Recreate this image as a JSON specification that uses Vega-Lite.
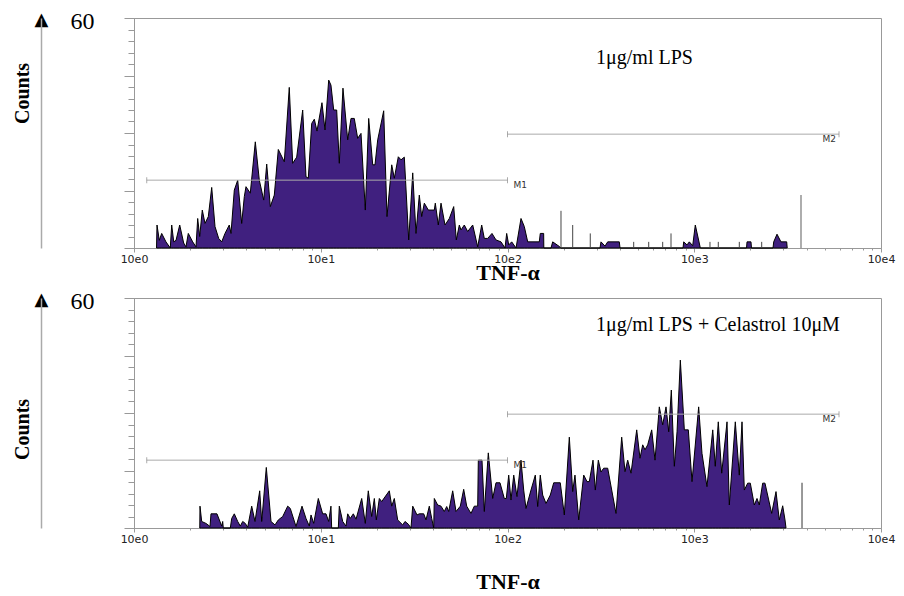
{
  "$schema": "https://vega.github.io/schema/vega-lite/v6.json",
  "background": "white",
  "padding": {"left": 11, "top": 8, "right": 0, "bottom": 0},
  "spacing": 4,
  "config": {
    "view": {"stroke": "#999", "strokeWidth": 1},
    "axis": {"grid": false, "domainColor": "#999", "tickColor": "#999"}
  },
  "datasets": {
    "top_hist": [
      {"x":1.32,"count":0},{"x":1.328,"count":6.0},{"x":1.366,"count":2},{"x":1.407,"count":3.8},{"x":1.483,"count":1.6},{"x":1.564,"count":0},{"x":1.592,"count":6},{"x":1.632,"count":1.6},{"x":1.679,"count":2},{"x":1.757,"count":6},{"x":1.845,"count":1.3},{"x":1.898,"count":0.3},{"x":1.953,"count":3.8},{"x":2.062,"count":1.6},{"x":2.148,"count":0.3},{"x":2.193,"count":7.7},{"x":2.248,"count":3},{"x":2.321,"count":9.9},{"x":2.4,"count":6.4},{"x":2.5,"count":8.2},{"x":2.607,"count":15.8},{"x":2.715,"count":5.6},{"x":2.841,"count":2.5},{"x":2.949,"count":1.6},{"x":3.071,"count":3.8},{"x":3.238,"count":6},{"x":3.307,"count":3.8},{"x":3.444,"count":15.1},{"x":3.592,"count":17.7},{"x":3.773,"count":6.4},{"x":3.896,"count":13.4},{"x":3.978,"count":16},{"x":4.195,"count":14.3},{"x":4.462,"count":27.7},{"x":4.688,"count":17.7},{"x":4.95,"count":12.5},{"x":5.136,"count":21.9},{"x":5.37,"count":10.8},{"x":5.64,"count":13.8},{"x":5.925,"count":25.7},{"x":6.38,"count":22.5},{"x":6.784,"count":41.9},{"x":7.075,"count":22.1},{"x":7.433,"count":23.7},{"x":8.004,"count":36},{"x":8.337,"count":18.6},{"x":8.577,"count":18.2},{"x":8.944,"count":32.5},{"x":9.237,"count":33.6},{"x":9.548,"count":30.5},{"x":10.15,"count":37.9},{"x":10.54,"count":30.8},{"x":11.03,"count":43.8},{"x":11.34,"count":42.5},{"x":11.73,"count":36},{"x":12.17,"count":36},{"x":12.57,"count":22.1},{"x":13.15,"count":41.7},{"x":13.94,"count":28.2},{"x":14.52,"count":33.8},{"x":15.12,"count":33.8},{"x":15.77,"count":28.6},{"x":16.43,"count":29.9},{"x":17.32,"count":9.9},{"x":18.06,"count":33.8},{"x":18.98,"count":21.7},{"x":19.52,"count":21.7},{"x":20.18,"count":28.2},{"x":21.73,"count":35.8},{"x":22.63,"count":8.2},{"x":23.99,"count":21.7},{"x":24.77,"count":18.2},{"x":26.02,"count":23.8},{"x":26.9,"count":23},{"x":28.02,"count":23.7},{"x":29.58,"count":2.1},{"x":31.08,"count":19.6},{"x":32.36,"count":3.8},{"x":33.71,"count":13.8},{"x":34.72,"count":8.2},{"x":35.86,"count":11.7},{"x":37.67,"count":9.9},{"x":40.55,"count":9.9},{"x":41.06,"count":11.7},{"x":42.61,"count":6},{"x":44.05,"count":11.7},{"x":46.28,"count":6},{"x":48.81,"count":7.7},{"x":51.52,"count":10.8},{"x":53.2,"count":2.1},{"x":55.21,"count":6},{"x":56.36,"count":4.7},{"x":58.71,"count":6},{"x":61.22,"count":4.3},{"x":65.12,"count":6},{"x":69.25,"count":0.3},{"x":72.75,"count":6},{"x":75.13,"count":2.5},{"x":78.34,"count":2.5},{"x":82.6,"count":3.8},{"x":86.77,"count":2.1},{"x":92.3,"count":1.6},{"x":96.96,"count":0},{"x":99.0,"count":3.8},{"x":101.5,"count":0.8},{"x":105.3,"count":1.6},{"x":111.1,"count":0},{"x":118.1,"count":7.7},{"x":123.0,"count":5.6},{"x":128.3,"count":1.6},{"x":148.0,"count":1.6},{"x":149.8,"count":3.8},{"x":156.2,"count":3.8},{"x":156.5,"count":0},{"x":171,"count":0},{"x":174.6,"count":1.6},{"x":189.4,"count":0.4},{"x":193.4,"count":0},{"x":312.8,"count":0},{"x":316.7,"count":1.6},{"x":332.8,"count":0.5},{"x":344,"count":1.6},{"x":396.9,"count":1.6},{"x":400.4,"count":0},{"x":870.8,"count":0},{"x":878.1,"count":1.6},{"x":914.6,"count":0.8},{"x":940.9,"count":1.6},{"x":981.1,"count":0.6},{"x":1013,"count":6},{"x":1078,"count":0},{"x":1905,"count":0},{"x":1917,"count":1.6},{"x":2013,"count":1.6},{"x":2025,"count":0},{"x":2641,"count":0},{"x":2664,"count":1.6},{"x":2774,"count":3.6},{"x":2913,"count":1.6},{"x":3126,"count":1.6},{"x":3146,"count":0}
    ],
    "top_spikes": [
      {"x":193.4,"count":9.7},{"x":223.4,"count":6},{"x":277.5,"count":3.8},{"x":474,"count":1.6},{"x":570.4,"count":1.6},{"x":677.7,"count":1.6},{"x":750.8,"count":3.8},{"x":1214,"count":1.6},{"x":1345,"count":1.6},{"x":1743,"count":1.6},{"x":2297,"count":1.6}
    ],
    "top_tall": [{"x":3729,"count":13.8}],
    "bot_hist": [
      {"x":2.25,"count":0},{"x":2.256,"count":5.7},{"x":2.304,"count":1.7},{"x":2.429,"count":1.2},{"x":2.553,"count":0.4},{"x":2.584,"count":3.7},{"x":2.782,"count":3.7},{"x":2.949,"count":0.5},{"x":2.985,"count":1.7},{"x":3.007,"count":0},{"x":3.279,"count":0},{"x":3.336,"count":2.5},{"x":3.444,"count":3.7},{"x":3.592,"count":1.7},{"x":3.709,"count":0.5},{"x":3.82,"count":1.7},{"x":3.945,"count":1.2},{"x":4.063,"count":0.2},{"x":4.268,"count":5.7},{"x":4.445,"count":1.7},{"x":4.711,"count":9.7},{"x":4.829,"count":1.7},{"x":5.11,"count":15.8},{"x":5.416,"count":1.7},{"x":5.689,"count":0.8},{"x":5.925,"count":2.1},{"x":6.256,"count":3},{"x":6.653,"count":5.7},{"x":6.87,"count":5.1},{"x":7.37,"count":0.4},{"x":7.936,"count":5.7},{"x":8.337,"count":2.5},{"x":8.685,"count":0.5},{"x":8.869,"count":3.4},{"x":9.168,"count":1.2},{"x":9.703,"count":7.7},{"x":10.24,"count":3.7},{"x":10.67,"count":3.7},{"x":11.03,"count":1.7},{"x":11.34,"count":5.7},{"x":11.44,"count":0},{"x":12.42,"count":0},{"x":12.57,"count":5.7},{"x":13.11,"count":1.7},{"x":13.65,"count":0.5},{"x":13.94,"count":3.7},{"x":14.39,"count":2.5},{"x":14.94,"count":3.7},{"x":15.45,"count":2.3},{"x":16.57,"count":7.7},{"x":17.32,"count":1.2},{"x":17.97,"count":9.7},{"x":18.74,"count":3},{"x":19.36,"count":7.7},{"x":19.84,"count":2.1},{"x":20.59,"count":7.7},{"x":21.2,"count":6.9},{"x":23.29,"count":9.7},{"x":23.99,"count":5.7},{"x":24.77,"count":7.7},{"x":25.82,"count":2.1},{"x":27.47,"count":0.8},{"x":28.26,"count":1.7},{"x":29.43,"count":1},{"x":30.42,"count":0},{"x":31.08,"count":5.7},{"x":32.77,"count":3.4},{"x":33.71,"count":3.7},{"x":35.6,"count":3.7},{"x":36.62,"count":2.1},{"x":38.13,"count":5.7},{"x":39.28,"count":2.5},{"x":40.26,"count":0},{"x":40.55,"count":7.7},{"x":42.29,"count":6},{"x":44.05,"count":5.7},{"x":45.87,"count":4.3},{"x":47.25,"count":5.6},{"x":48.44,"count":4.3},{"x":50.88,"count":9.7},{"x":53.01,"count":4.3},{"x":55.89,"count":5.7},{"x":58.27,"count":10.1},{"x":60.46,"count":5.7},{"x":63.76,"count":3.8},{"x":66.41,"count":5.7},{"x":69.25,"count":5.7},{"x":69.78,"count":17.7},{"x":73.03,"count":17.7},{"x":75.13,"count":4.3},{"x":78.93,"count":19.6},{"x":83.32,"count":7.7},{"x":86.77,"count":11.8},{"x":91.16,"count":11.8},{"x":96.13,"count":7.7},{"x":98.53,"count":7.7},{"x":101.5,"count":13.8},{"x":104.4,"count":7.3},{"x":108.0,"count":13.8},{"x":112.4,"count":8.2},{"x":118.1,"count":17.7},{"x":122.1,"count":9.9},{"x":125.6,"count":5.1},{"x":133.6,"count":9.9},{"x":140.9,"count":13.8},{"x":145.1,"count":5.6},{"x":149.8,"count":13.8},{"x":154.3,"count":8.6},{"x":160.8,"count":6.4},{"x":169.5,"count":8.6},{"x":176.8,"count":11.8},{"x":191.7,"count":11.8},{"x":201.5,"count":3.4},{"x":214.3,"count":23.7},{"x":223.4,"count":9.5},{"x":229.8,"count":13.8},{"x":240.6,"count":2.1},{"x":255.9,"count":13.8},{"x":266.6,"count":12.1},{"x":274.2,"count":12.1},{"x":287.0,"count":17.7},{"x":295.3,"count":9.9},{"x":306.4,"count":17.7},{"x":316.7,"count":14.6},{"x":327.4,"count":15.6},{"x":344.0,"count":15.6},{"x":381.1,"count":3.8},{"x":408.8,"count":23.7},{"x":425.8,"count":14.7},{"x":440.2,"count":17.7},{"x":458.5,"count":14.3},{"x":491.9,"count":25.6},{"x":512.3,"count":18.2},{"x":529.6,"count":21.7},{"x":544.9,"count":20.4},{"x":563.3,"count":21.7},{"x":591.8,"count":25.6},{"x":616.4,"count":17.7},{"x":650.0,"count":31.6},{"x":677.7,"count":26.9},{"x":706.1,"count":31.6},{"x":730.1,"count":25.1},{"x":753.8,"count":36},{"x":782.3,"count":16.1},{"x":808.8,"count":25.1},{"x":842.4,"count":43.8},{"x":884.9,"count":25.6},{"x":929.5,"count":25.6},{"x":972.7,"count":12.1},{"x":1056,"count":31.6},{"x":1100,"count":19.5},{"x":1170,"count":10.8},{"x":1256,"count":25.6},{"x":1296,"count":16.1},{"x":1345,"count":27.7},{"x":1403,"count":14.3},{"x":1498,"count":27.7},{"x":1541,"count":6},{"x":1659,"count":27.7},{"x":1743,"count":13.8},{"x":1802,"count":27.7},{"x":1854,"count":9.9},{"x":1933,"count":11.7},{"x":1996,"count":11.7},{"x":2097,"count":6},{"x":2168,"count":7.7},{"x":2230,"count":6},{"x":2325,"count":11.7},{"x":2392,"count":11.7},{"x":2598,"count":3.8},{"x":2740,"count":9.5},{"x":2854,"count":2.1},{"x":2976,"count":5.8},{"x":3062,"count":2.1},{"x":3100,"count":0}
    ],
    "bot_tall": [{"x":3776,"count":11.8}],
    "markers": [
      {"m":"M1","x1":1.17,"x2":100,"y":17.7},
      {"m":"M2","x1":100,"x2":5960,"y":29.7}
    ],
    "caps": [
      {"x":1.17,"y":17.7},{"x":100,"y":17.7},{"x":100,"y":29.7},{"x":5960,"y":29.7}
    ],
    "top_note": [{"x":298,"count":49.6,"label":"1μg/ml LPS"}],
    "bot_note": [{"x":298,"count":53,"label":"1μg/ml LPS + Celastrol 10μM"}]
  },
  "vconcat": [
    {
      "width": 747,
      "height": 230,
      "layer": [
        {
          "data": {"name": "top_hist"},
          "mark": {"type": "area", "color": "#40207f", "stroke": "#000", "strokeWidth": 1, "strokeJoin": "round", "interpolate": "linear"},
          "encoding": {
            "x": {"field": "x", "type": "quantitative", "scale": {"type": "log", "domain": [1, 10000], "nice": false},
              "axis": {"orient": "bottom", "values": [1, 10, 100, 1000, 10000], "tickSize": 4, "labelExpr": "'10e' + round(log(datum.value)/LN10)", "labelFont": "DejaVu Sans", "labelFontSize": 11, "labelColor": "#222", "labelPadding": 1, "labelFlush": false,
                "title": "TNF-α", "titleFont": "Liberation Serif", "titleFontSize": 22, "titleFontWeight": "bold", "titleColor": "#000", "titleY": 31, "titleBaseline": "alphabetic"}},
            "y": {"field": "count", "type": "quantitative", "scale": {"domain": [0, 60], "nice": false},
              "axis": {"orient": "left", "values": [0,3,6,9,12,15,18,21,24,27,30,33,36,39,42,45,48,51,54,57,60], "tickSize": 6, "labelExpr": "datum.value == 60 ? '60' : ''", "labelFont": "Liberation Serif", "labelFontSize": 24, "labelColor": "#000", "labelPadding": 34, "labelBaseline": "middle", "labelOffset": 3,
                "title": "Counts", "titleFont": "Liberation Serif", "titleFontSize": 20, "titleFontWeight": "bold", "titleColor": "#000", "titleAngle": -90, "titleX": -106, "titleY": 75, "titleAlign": "center", "titleBaseline": "alphabetic"}}
          }
        },
        {
          "data": {"name": "top_spikes"},
          "mark": {"type": "rule", "color": "#444", "strokeWidth": 1},
          "encoding": {
            "x": {"field": "x", "type": "quantitative", "axis": {"orient": "bottom", "values": [2,3,4,5,6,7,8,9,20,30,40,50,60,70,80,90,200,300,400,500,600,700,800,900,2000,3000,4000,5000,6000,7000,8000,9000], "tickSize": 2, "domain": false, "labels": false, "title": null}},
            "y": {"field": "count", "type": "quantitative", "axis": {"orient": "left", "values": [0, 15, 30, 45, 60], "tickSize": 10, "domain": false, "labels": false, "title": null}},
            "y2": {"datum": 0}
          }
        },
        {
          "data": {"name": "top_tall"},
          "mark": {"type": "rule", "color": "#777", "strokeWidth": 1.2},
          "encoding": {
            "x": {"field": "x", "type": "quantitative", "axis": null},
            "y": {"field": "count", "type": "quantitative", "axis": null},
            "y2": {"datum": 0}
          }
        },
        {
          "data": {"name": "markers"},
          "mark": {"type": "rule", "color": "#aaa", "strokeWidth": 1},
          "encoding": {
            "x": {"field": "x1", "type": "quantitative", "axis": null},
            "x2": {"field": "x2"},
            "y": {"field": "y", "type": "quantitative", "axis": {"orient": "left", "offset": 93, "values": [60], "ticks": false, "tickSize": 0, "domainColor": "#aaa", "domainWidth": 1.5, "labelExpr": "'▲'", "labelFont": "DejaVu Sans", "labelFontSize": 18, "labelColor": "#000", "labelAlign": "center", "labelBaseline": "middle", "labelPadding": 0, "labelOffset": 1, "title": null}}
          }
        },
        {
          "data": {"name": "caps"},
          "mark": {"type": "tick", "orient": "vertical", "size": 6, "thickness": 1, "color": "#888"},
          "encoding": {
            "x": {"field": "x", "type": "quantitative", "axis": null},
            "y": {"field": "y", "type": "quantitative", "axis": null}
          }
        },
        {
          "data": {"name": "markers"},
          "transform": [{"filter": "datum.m == 'M1'"}],
          "mark": {"type": "text", "align": "left", "baseline": "middle", "dx": 6, "dy": 5, "font": "DejaVu Sans", "fontSize": 9, "color": "#333"},
          "encoding": {
            "x": {"field": "x2", "type": "quantitative", "axis": null},
            "y": {"field": "y", "type": "quantitative", "axis": null},
            "text": {"field": "m"}
          }
        },
        {
          "data": {"name": "markers"},
          "transform": [{"filter": "datum.m == 'M2'"}],
          "mark": {"type": "text", "align": "right", "baseline": "middle", "dx": -3, "dy": 5, "font": "DejaVu Sans", "fontSize": 9, "color": "#333"},
          "encoding": {
            "x": {"field": "x2", "type": "quantitative", "axis": null},
            "y": {"field": "y", "type": "quantitative", "axis": null},
            "text": {"field": "m"}
          }
        },
        {
          "data": {"name": "top_note"},
          "mark": {"type": "text", "align": "left", "baseline": "middle", "font": "Liberation Serif", "fontSize": 20, "color": "#000"},
          "encoding": {
            "x": {"field": "x", "type": "quantitative", "axis": null},
            "y": {"field": "count", "type": "quantitative", "axis": null},
            "text": {"field": "label"}
          }
        }
      ],
      "resolve": {"axis": {"x": "independent", "y": "independent"}}
    },
    {
      "width": 747,
      "height": 230,
      "layer": [
        {
          "data": {"name": "bot_hist"},
          "mark": {"type": "area", "color": "#40207f", "stroke": "#000", "strokeWidth": 1, "strokeJoin": "round", "interpolate": "linear"},
          "encoding": {
            "x": {"field": "x", "type": "quantitative", "scale": {"type": "log", "domain": [1, 10000], "nice": false},
              "axis": {"orient": "bottom", "values": [1, 10, 100, 1000, 10000], "tickSize": 4, "labelExpr": "'10e' + round(log(datum.value)/LN10)", "labelFont": "DejaVu Sans", "labelFontSize": 11, "labelColor": "#222", "labelPadding": 1, "labelFlush": false,
                "title": "TNF-α", "titleFont": "Liberation Serif", "titleFontSize": 22, "titleFontWeight": "bold", "titleColor": "#000", "titleY": 60, "titleBaseline": "alphabetic"}},
            "y": {"field": "count", "type": "quantitative", "scale": {"domain": [0, 60], "nice": false},
              "axis": {"orient": "left", "values": [0,3,6,9,12,15,18,21,24,27,30,33,36,39,42,45,48,51,54,57,60], "tickSize": 6, "labelExpr": "datum.value == 60 ? '60' : ''", "labelFont": "Liberation Serif", "labelFontSize": 24, "labelColor": "#000", "labelPadding": 34, "labelBaseline": "middle", "labelOffset": 3,
                "title": "Counts", "titleFont": "Liberation Serif", "titleFontSize": 20, "titleFontWeight": "bold", "titleColor": "#000", "titleAngle": -90, "titleX": -106, "titleY": 131, "titleAlign": "center", "titleBaseline": "alphabetic"}}
          }
        },
        {
          "data": {"name": "bot_tall"},
          "mark": {"type": "rule", "color": "#555", "strokeWidth": 1.2},
          "encoding": {
            "x": {"field": "x", "type": "quantitative", "axis": {"orient": "bottom", "values": [2,3,4,5,6,7,8,9,20,30,40,50,60,70,80,90,200,300,400,500,600,700,800,900,2000,3000,4000,5000,6000,7000,8000,9000], "tickSize": 2, "domain": false, "labels": false, "title": null}},
            "y": {"field": "count", "type": "quantitative", "axis": {"orient": "left", "values": [0, 15, 30, 45, 60], "tickSize": 10, "domain": false, "labels": false, "title": null}},
            "y2": {"datum": 0}
          }
        },
        {
          "data": {"name": "markers"},
          "mark": {"type": "rule", "color": "#aaa", "strokeWidth": 1},
          "encoding": {
            "x": {"field": "x1", "type": "quantitative", "axis": null},
            "x2": {"field": "x2"},
            "y": {"field": "y", "type": "quantitative", "axis": {"orient": "left", "offset": 93, "values": [60], "ticks": false, "tickSize": 0, "domainColor": "#aaa", "domainWidth": 1.5, "labelExpr": "'▲'", "labelFont": "DejaVu Sans", "labelFontSize": 18, "labelColor": "#000", "labelAlign": "center", "labelBaseline": "middle", "labelPadding": 0, "labelOffset": 1, "title": null}}
          }
        },
        {
          "data": {"name": "caps"},
          "mark": {"type": "tick", "orient": "vertical", "size": 6, "thickness": 1, "color": "#888"},
          "encoding": {
            "x": {"field": "x", "type": "quantitative", "axis": null},
            "y": {"field": "y", "type": "quantitative", "axis": null}
          }
        },
        {
          "data": {"name": "markers"},
          "transform": [{"filter": "datum.m == 'M1'"}],
          "mark": {"type": "text", "align": "left", "baseline": "middle", "dx": 6, "dy": 5, "font": "DejaVu Sans", "fontSize": 9, "color": "#333"},
          "encoding": {
            "x": {"field": "x2", "type": "quantitative", "axis": null},
            "y": {"field": "y", "type": "quantitative", "axis": null},
            "text": {"field": "m"}
          }
        },
        {
          "data": {"name": "markers"},
          "transform": [{"filter": "datum.m == 'M2'"}],
          "mark": {"type": "text", "align": "right", "baseline": "middle", "dx": -3, "dy": 5, "font": "DejaVu Sans", "fontSize": 9, "color": "#333"},
          "encoding": {
            "x": {"field": "x2", "type": "quantitative", "axis": null},
            "y": {"field": "y", "type": "quantitative", "axis": null},
            "text": {"field": "m"}
          }
        },
        {
          "data": {"name": "bot_note"},
          "mark": {"type": "text", "align": "left", "baseline": "middle", "font": "Liberation Serif", "fontSize": 20, "color": "#000"},
          "encoding": {
            "x": {"field": "x", "type": "quantitative", "axis": null},
            "y": {"field": "count", "type": "quantitative", "axis": null},
            "text": {"field": "label"}
          }
        }
      ],
      "resolve": {"axis": {"x": "independent", "y": "independent"}}
    }
  ]
}
